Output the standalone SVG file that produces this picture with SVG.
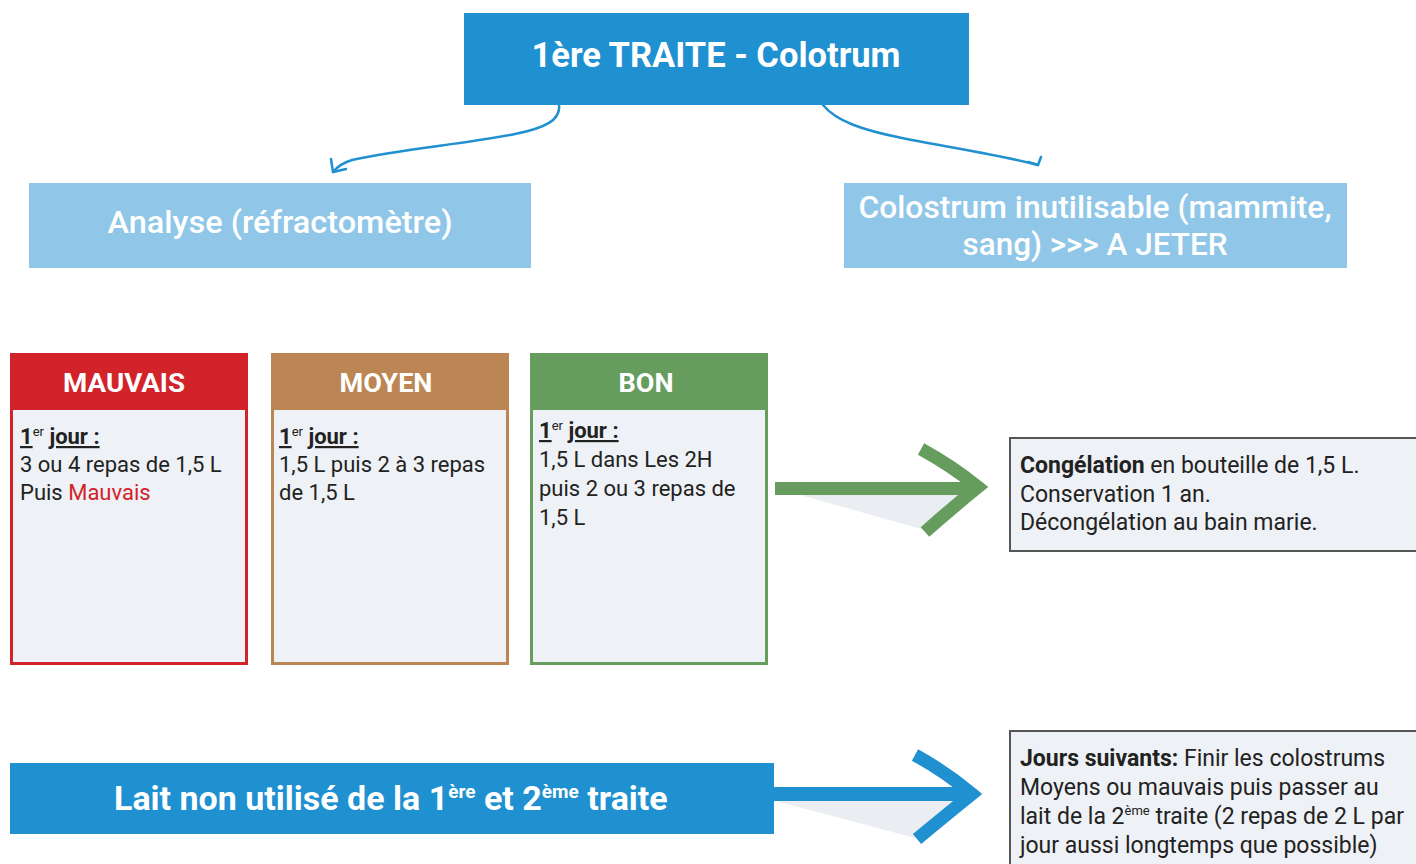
<svg xmlns="http://www.w3.org/2000/svg" width="1416" height="864" viewBox="0 0 1416 864">
<style>
  text { font-family: Roboto, "Liberation Sans", sans-serif; }
  .title { fill: #ffffff; font-weight: 700; }
  .sub { fill: #ffffff; font-weight: 500; font-size: 32px; }
  .hdr { fill: #ffffff; font-weight: 700; font-size: 25px; }
  .body { fill: #222222; font-size: 22px; }
  .note { fill: #222222; font-size: 23px; }
  .u { text-decoration: underline; font-weight: 700; }
  .sup { font-size: 13px; }
  .link { fill: none; stroke: #1f90d0; stroke-width: 2.5; stroke-linecap: round; stroke-linejoin: round; }
  .chev { fill: none; stroke-width: 13; stroke-linejoin: miter; stroke-miterlimit: 10; }
</style>
<rect width="1416" height="864" fill="#ffffff"/>

<g id="connectors">
  <path class="link" d="M559,105 C561,120 545,128 515,134 C465,144 400,149 352,160 C342,163 337,167 333,172"/>
  <path class="link" d="M331,159 L333,172 L346,169"/>
  <path class="link" d="M823,105 C836,121 862,130 902,138 C952,148 1000,155 1038,165"/>
  <path class="link" d="M1041,157 L1038,165 L1028,162"/>
  <!-- green arrow -->
  <polygon points="800,495 962,495 925,530" fill="#eaeef2"/>
  <rect x="775" y="482" width="195" height="13" fill="#669d5e"/>
  <path class="chev" stroke="#669d5e" d="M921,449 Q952,466 978,487 Q952,508 925,532"/>
  <!-- blue arrow -->
  <polygon points="776,801 962,801 915,838" fill="#eaeef2"/>
  <rect x="772" y="787" width="195" height="14" fill="#1f90d0"/>
  <path class="chev" stroke="#1f90d0" stroke-width="14" d="M915,755 Q946,772 972,794 Q946,815 917,839"/>
</g>

<g id="node-top">
  <rect x="464" y="13" width="505" height="92" fill="#1f90d0"/>
  <text class="title" x="716" y="67" font-size="35" text-anchor="middle" textLength="369" lengthAdjust="spacingAndGlyphs">1ère TRAITE - Colotrum</text>
</g>

<g id="node-analyse">
  <rect x="29" y="183" width="502" height="85" fill="#90c7e8"/>
  <text class="sub" x="280" y="233" text-anchor="middle" textLength="345" lengthAdjust="spacingAndGlyphs">Analyse (réfractomètre)</text>
</g>

<g id="node-jeter">
  <rect x="844" y="183" width="503" height="85" fill="#90c7e8"/>
  <text class="sub" x="1095" y="218" text-anchor="middle" textLength="473" lengthAdjust="spacingAndGlyphs">Colostrum inutilisable (mammite,</text>
  <text class="sub" x="1095" y="255" text-anchor="middle" textLength="265" lengthAdjust="spacingAndGlyphs">sang) &gt;&gt;&gt; A JETER</text>
</g>

<g id="node-mauvais">
  <rect x="11.5" y="354.5" width="235" height="309" fill="#eef1f5" stroke="#d2232a" stroke-width="3"/>
  <rect x="10" y="353" width="238" height="57" fill="#d2232a"/>
  <text class="hdr" x="124" y="392" text-anchor="middle" textLength="122" lengthAdjust="spacingAndGlyphs">MAUVAIS</text>
  <text class="body" x="20" y="444"><tspan class="u">1</tspan><tspan class="sup" dy="-8">er</tspan><tspan dy="8"> </tspan><tspan class="u">jour :</tspan></text>
  <text class="body" x="20" y="472">3 ou 4 repas de 1,5 L</text>
  <text class="body" x="20" y="500">Puis <tspan fill="#d2232a">Mauvais</tspan></text>
</g>

<g id="node-moyen">
  <rect x="272.5" y="354.5" width="235" height="309" fill="#eef1f5" stroke="#bb8653" stroke-width="3"/>
  <rect x="271" y="353" width="238" height="57" fill="#bb8653"/>
  <text class="hdr" x="386" y="392" text-anchor="middle" textLength="93" lengthAdjust="spacingAndGlyphs">MOYEN</text>
  <text class="body" x="279" y="444"><tspan class="u">1</tspan><tspan class="sup" dy="-8">er</tspan><tspan dy="8"> </tspan><tspan class="u">jour :</tspan></text>
  <text class="body" x="279" y="472">1,5 L puis 2 à 3 repas</text>
  <text class="body" x="279" y="500">de 1,5 L</text>
</g>

<g id="node-bon">
  <rect x="531.5" y="354.5" width="235" height="309" fill="#eef1f5" stroke="#669d5e" stroke-width="3"/>
  <rect x="530" y="353" width="238" height="57" fill="#669d5e"/>
  <text class="hdr" x="646" y="392" text-anchor="middle" textLength="55" lengthAdjust="spacingAndGlyphs">BON</text>
  <text class="body" x="539" y="438"><tspan class="u">1</tspan><tspan class="sup" dy="-8">er</tspan><tspan dy="8"> </tspan><tspan class="u">jour :</tspan></text>
  <text class="body" x="539" y="467">1,5 L dans Les 2H</text>
  <text class="body" x="539" y="496">puis 2 ou 3 repas de</text>
  <text class="body" x="539" y="525">1,5 L</text>
</g>

<g id="node-congelation">
  <rect x="1010" y="438" width="410" height="113" fill="#eef1f5" stroke="#555555" stroke-width="2"/>
  <text class="note" x="1020" y="473"><tspan font-weight="700">Congélation</tspan> en bouteille de 1,5 L.</text>
  <text class="note" x="1020" y="502">Conservation 1 an.</text>
  <text class="note" x="1020" y="530">Décongélation au bain marie.</text>
</g>

<g id="node-lait">
  <rect x="10" y="763" width="764" height="71" fill="#1f90d0"/>
  <text class="title" x="114" y="810" font-size="34"><tspan>Lait non utilisé de la 1</tspan><tspan font-size="19" dy="-12">ère</tspan><tspan dy="12"> et 2</tspan><tspan font-size="19" dy="-12">ème</tspan><tspan dy="12"> traite</tspan></text>
</g>

<g id="node-jours">
  <rect x="1010" y="731" width="410" height="140" fill="#eef1f5" stroke="#555555" stroke-width="2"/>
  <text class="note" x="1020" y="766"><tspan font-weight="700">Jours suivants:</tspan> Finir les colostrums</text>
  <text class="note" x="1020" y="795">Moyens ou mauvais puis passer au</text>
  <text class="note" x="1020" y="824">lait de la 2<tspan font-size="13" dy="-9">ème</tspan><tspan dy="9"> traite (2 repas de 2 L par</tspan></text>
  <text class="note" x="1020" y="853">jour aussi longtemps que possible)</text>
</g>
</svg>
